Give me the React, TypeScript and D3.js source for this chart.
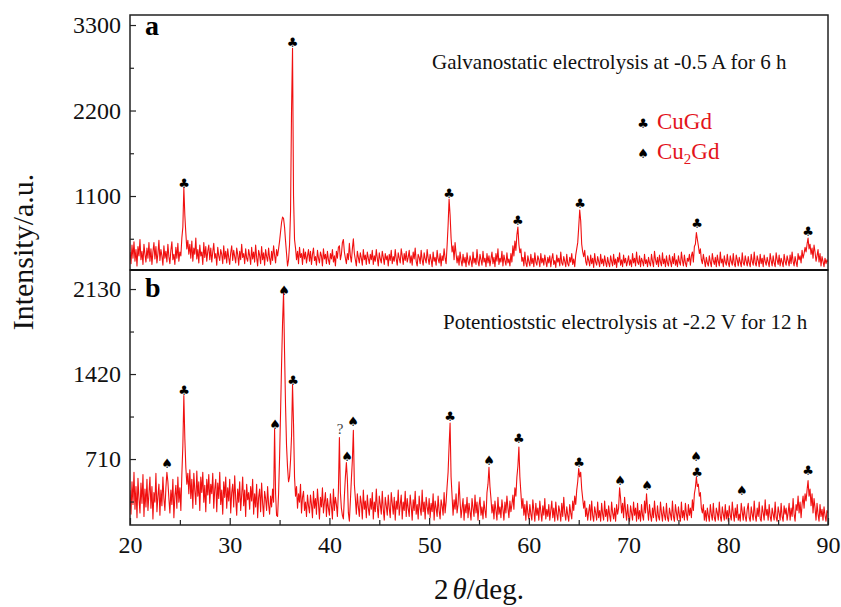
import React, { useEffect, useRef } from "react";
import * as d3 from "d3";

// sampling grid of the diffractograms (2theta, deg)
const angleStart = 20;
const angleStep = 0.1;

// (a) galvanostatic, -0.5 A, 6 h  (one row = 2 deg)
const intensityA = [
  380, 230, 470, 300, 510, 260, 410, 200, 450, 330, 540, 280, 390, 220, 480, 350, 250, 430, 300, 500,
  260, 420, 220, 380, 500, 290, 450, 240, 360, 530, 270, 410, 330, 210, 460, 300, 390, 250, 480, 320,
  230, 400, 510, 280, 350, 220, 440, 300, 490, 260, 380, 330, 560, 700, 1210, 850, 620, 420, 530, 350,
  480, 300, 520, 260, 430, 350, 560, 290, 410, 240, 470, 330, 380, 220, 500, 310, 450, 260, 390, 470,
  280, 430, 250, 380, 490, 300, 360, 210, 440, 330, 270, 410, 350, 230, 460, 290, 390, 240, 420, 310,
  220, 370, 460, 270, 400, 320, 240, 430, 350, 210, 390, 280, 480, 310, 360, 230, 420, 300, 260, 410,
  330, 220, 440, 290, 380, 250, 470, 310, 200, 400, 340, 230, 450, 280, 370, 210, 410, 320, 260, 430,
  300, 220, 390, 270, 460, 340, 240, 410, 330, 420, 520, 640, 760, 830, 810, 700, 520, 360, 200, 280,
  470, 900, 2200, 3000, 1100, 540, 430, 280, 390, 230, 440, 310, 360, 220, 420, 290, 380, 240, 330, 410,
  260, 390, 220, 350, 430, 270, 320, 210, 400, 300, 240, 380, 330, 200, 420, 290, 350, 230, 390, 280,
  220, 360, 290, 410, 250, 330, 200, 390, 300, 440, 460, 280, 350, 500, 540, 380, 300, 230, 360, 280,
  490, 330, 250, 420, 550, 360, 280, 200, 390, 310, 240, 370, 300, 210, 410, 280, 340, 220, 380, 300,
  230, 350, 280, 400, 220, 330, 260, 410, 300, 200, 370, 290, 240, 390, 310, 220, 360, 280, 330, 200,
  350, 270, 400, 230, 320, 260, 410, 290, 210, 370, 300, 240, 420, 330, 220, 360, 270, 390, 250, 310,
  400, 240, 330, 210, 380, 290, 430, 260, 200, 350, 310, 230, 400, 280, 210, 370, 290, 240, 410, 300,
  220, 350, 280, 190, 380, 260, 310, 210, 400, 290, 240, 360, 200, 330, 270, 420, 300, 230, 460, 720,
  1060, 860, 560, 380, 460, 280, 500, 360, 240, 330, 210, 380, 270, 200, 350, 240, 310, 190, 370, 260,
  210, 330, 270, 190, 380, 240, 300, 220, 410, 260, 200, 350, 280, 210, 390, 250, 300, 190, 360, 240,
  330, 200, 290, 380, 230, 310, 190, 360, 260, 420, 220, 300, 250, 390, 200, 340, 270, 210, 370, 240,
  290, 200, 360, 250, 460, 330, 520, 400, 600, 700, 480, 370, 420, 260, 310, 200, 380, 240, 190, 330,
  260, 200, 350, 230, 300, 190, 370, 250, 210, 330, 280, 190, 360, 240, 300, 210, 340, 260, 190, 310,
  240, 330, 190, 290, 360, 220, 270, 180, 340, 250, 300, 200, 380, 240, 210, 320, 260, 190, 350, 230,
  200, 310, 250, 360, 220, 290, 190, 340, 420, 500, 700, 920, 780, 480, 380, 320, 400, 260, 210, 330,
  270, 200, 340, 230, 300, 180, 360, 250, 210, 320, 260, 190, 350, 230, 290, 200, 330, 250, 190, 310,
  240, 190, 330, 260, 200, 350, 220, 290, 180, 310, 250, 370, 210, 280, 190, 340, 240, 300, 200, 260,
  330, 210, 280, 190, 360, 240, 300, 200, 380, 250, 220, 330, 190, 300, 260, 200, 350, 230, 280, 190,
  310, 240, 200, 350, 260, 190, 390, 280, 220, 310, 190, 340, 250, 200, 370, 230, 290, 190, 330, 240,
  200, 340, 260, 190, 320, 230, 360, 210, 280, 190, 330, 250, 210, 380, 270, 200, 340, 240, 190, 300,
  260, 350, 210, 330, 380, 250, 450, 480, 630, 540, 460, 360, 420, 280, 230, 350, 270, 190, 310, 240,
  200, 330, 250, 190, 360, 270, 220, 310, 190, 340, 260, 200, 380, 240, 290, 190, 330, 250, 210, 350,
  240, 190, 330, 260, 210, 360, 230, 190, 340, 280, 200, 310, 250, 190, 370, 240, 210, 330, 260, 200,
  320, 240, 190, 350, 260, 210, 380, 240, 200, 330, 270, 190, 350, 230, 300, 190, 340, 260, 210, 310,
  250, 190, 360, 270, 200, 330, 240, 190, 370, 280, 220, 340, 200, 300, 250, 190, 350, 260, 210, 330,
  270, 200, 340, 230, 380, 260, 200, 320, 250, 190, 360, 280, 330, 240, 400, 300, 360, 440, 380, 480,
  560, 420, 480, 350, 430, 300, 470, 380, 260, 330, 410, 250, 360, 200, 320, 260, 190, 300, 230, 280,
  250,
];

// (b) potentiostatic, -2.2 V, 12 h
const intensityB = [
  450, 250, 520, 330, 600, 290, 480, 220, 550, 380, 260, 510, 340, 580, 230, 460, 310, 540, 280, 420,
  560, 300, 480, 210, 430, 350, 590, 270, 400, 500, 240, 450, 320, 560, 380, 280, 470, 600, 520, 380,
  260, 450, 330, 540, 220, 400, 490, 300, 560, 350, 470, 280, 580, 820, 1240, 880, 640, 500, 590, 420,
  620, 380, 540, 300, 590, 450, 330, 610, 400, 520, 280, 560, 430, 600, 350, 490, 270, 540, 410, 580,
  340, 500, 420, 590, 300, 460, 540, 270, 510, 380, 600, 330, 450, 250, 520, 390, 560, 300, 470, 360,
  540, 260, 430, 500, 310, 570, 380, 240, 460, 350, 520, 280, 410, 560, 320, 450, 230, 500, 370, 430,
  290, 480, 360, 540, 250, 420, 310, 500, 220, 390, 460, 270, 510, 340, 230, 440, 380, 280, 480, 330,
  250, 400, 310, 460, 350, 960, 420, 240, 230, 420, 720, 1100, 1500, 1850, 2100, 1600, 1150, 820, 640, 520,
  560, 700, 900, 1330, 1000, 560, 400, 480, 300, 420, 350, 500, 260, 390, 440, 280, 350, 230, 410, 320,
  260, 410, 330, 220, 440, 300, 380, 250, 460, 340, 210, 390, 310, 470, 260, 350, 430, 230, 380, 300,
  240, 420, 320, 210, 460, 280, 390, 330, 230, 450, 890, 430, 300, 240, 210, 400, 560, 680, 540, 260,
  190, 360, 540, 700, 950, 500, 380, 250, 420, 310, 230, 400, 340, 210, 450, 290, 360, 220, 410, 300,
  240, 380, 290, 430, 210, 350, 270, 460, 310, 220, 400, 330, 250, 440, 290, 200, 390, 320, 240, 410,
  300, 220, 430, 340, 250, 390, 200, 360, 290, 450, 240, 330, 410, 210, 350, 280, 440, 230, 380, 300,
  230, 410, 320, 200, 370, 280, 440, 250, 330, 210, 400, 300, 240, 450, 270, 350, 210, 390, 310, 250,
  380, 220, 340, 270, 420, 200, 360, 300, 230, 400, 280, 210, 370, 320, 240, 430, 260, 350, 480, 600,
  820, 1010, 560, 400, 240, 370, 290, 420, 260, 330, 520, 360, 220, 300, 380, 200, 330, 260, 390, 220,
  340, 270, 200, 380, 300, 230, 410, 260, 350, 200, 320, 390, 240, 310, 210, 360, 280, 220, 430, 500,
  640, 480, 380, 260, 330, 210, 360, 280, 200, 390, 250, 310, 220, 370, 290, 200, 350, 260, 400, 300,
  220, 360, 270, 330, 410, 290, 470, 400, 560, 650, 810, 560, 430, 300, 380, 240, 330, 200, 360, 260,
  210, 330, 250, 200, 370, 280, 190, 340, 240, 300, 200, 360, 270, 190, 320, 240, 380, 210, 290, 230,
  330, 200, 280, 360, 220, 300, 190, 350, 250, 200, 320, 270, 190, 340, 230, 390, 260, 200, 310, 240,
  190, 330, 260, 210, 360, 280, 400, 330, 450, 520, 630, 560, 600, 460, 380, 300, 360, 230, 300, 200,
  270, 330, 200, 360, 240, 190, 310, 260, 200, 350, 220, 280, 190, 340, 250, 200, 360, 230, 290, 190,
  320, 240, 190, 350, 260, 210, 300, 190, 330, 250, 300, 470, 380, 260, 340, 220, 390, 280, 200, 330,
  230, 190, 320, 260, 200, 350, 240, 300, 190, 340, 210, 280, 190, 330, 240, 200, 360, 260, 420, 290,
  200, 330, 240, 190, 300, 220, 360, 250, 190, 320, 230, 200, 350, 260, 190, 310, 240, 200, 340, 220,
  190, 300, 250, 200, 360, 230, 190, 330, 260, 200, 310, 240, 190, 350, 220, 280, 200, 340, 250, 200,
  330, 240, 300, 220, 370, 280, 420, 470, 560, 480, 500, 400, 430, 300, 260, 330, 200, 280, 190, 300,
  240, 190, 330, 250, 200, 340, 220, 190, 300, 260, 200, 350, 230, 190, 310, 250, 200, 330, 210, 280,
  190, 320, 240, 200, 350, 260, 190, 300, 220, 330, 200, 250, 190, 340, 270, 200, 310, 230, 190, 290,
  340, 220, 190, 310, 250, 200, 360, 240, 190, 300, 230, 350, 210, 190, 320, 260, 200, 370, 240, 290,
  200, 330, 230, 190, 300, 250, 200, 350, 220, 190, 310, 260, 200, 340, 230, 190, 320, 250, 300, 200,
  260, 340, 200, 300, 230, 380, 250, 190, 330, 280, 400, 260, 350, 220, 330, 400, 300, 420, 360, 450,
  530, 400, 460, 320, 420, 260, 380, 300, 200, 340, 250, 190, 330, 230, 290, 200, 310, 240, 190, 280,
  260,
];

const CLUB = "\u2663";
const SPADE = "\u2660";

// phase markers: [2theta, intensity level, symbol]
const markersA: [number, number, string][] = [
  [25.42, 1267, CLUB],
  [36.3, 3083, CLUB],
  [52.0, 1139, CLUB],
  [58.9, 793, CLUB],
  [65.13, 1011, CLUB],
  [76.86, 755, CLUB],
  [88.0, 653, CLUB],
];
const markersB: [number, number, string][] = [
  [23.71, 677, SPADE],
  [25.42, 1287, CLUB],
  [34.54, 1003, SPADE],
  [35.44, 2122, SPADE],
  [36.35, 1370, CLUB],
  [41.06, 969, "?"],
  [41.76, 735, SPADE],
  [42.36, 1028, SPADE],
  [52.09, 1069, CLUB],
  [56.0, 702, SPADE],
  [59.0, 886, CLUB],
  [65.03, 685, CLUB],
  [69.14, 535, SPADE],
  [71.85, 493, SPADE],
  [76.76, 735, SPADE],
  [76.86, 605, CLUB],
  [81.37, 451, SPADE],
  [88.0, 618, CLUB],
];

const ticksA = [1100, 2200, 3300];
const minorTicksA = [550, 1650, 2750];
const ticksB = [710, 1420, 2130];
const minorTicksB = [355, 1065, 1775];
const angleTicks = [20, 30, 40, 50, 60, 70, 80, 90];
const angleMinorTicks = [25, 35, 45, 55, 65, 75, 85];

const serif = "'Liberation Serif', 'Times New Roman', serif";
const symbolFont = "'DejaVu Sans', sans-serif";

function Chart() {
  const ref = useRef<SVGSVGElement>(null);

  useEffect(() => {
    const svg = d3.select(ref.current);
    svg.selectAll("*").remove();

    const left = 130, right = 828;
    const x = d3.scaleLinear().domain([20, 90]).range([left, right]);

    const panels = [
      { id: "a", top: 15, bottom: 270, domain: [148, 3429], data: intensityA, ticks: ticksA, minor: minorTicksA,
        markers: markersA, note: "Galvanostatic electrolysis at -0.5 A for 6 h", noteX: 432, noteY: 69 },
      { id: "b", top: 270, bottom: 525, domain: [159, 2289], data: intensityB, ticks: ticksB, minor: minorTicksB,
        markers: markersB, note: "Potentioststic electrolysis at -2.2 V for 12 h", noteX: 443, noteY: 329 },
    ];

    panels.forEach((p) => {
      const y = d3.scaleLinear().domain(p.domain).range([p.bottom, p.top]);

      svg.append("clipPath").attr("id", "clip-" + p.id)
        .append("rect")
        .attr("x", left).attr("y", p.top)
        .attr("width", right - left).attr("height", p.bottom - p.top);

      const line = d3.line<number>()
        .x((d, i) => x(angleStart + i * angleStep))
        .y((d) => y(d));

      svg.append("path")
        .datum(p.data)
        .attr("clip-path", "url(#clip-" + p.id + ")")
        .attr("fill", "none")
        .attr("stroke", "#f01010")
        .attr("stroke-width", 1.1)
        .attr("stroke-linejoin", "round")
        .attr("d", line);

      // y axis, ticks inside
      const ax = svg.append("g")
        .attr("transform", "translate(" + left + ",0)")
        .call(d3.axisLeft(y).tickValues(p.ticks).tickSize(-6).tickPadding(9).tickFormat(d3.format("d")));
      ax.select(".domain").remove();
      ax.selectAll("line").attr("stroke", "#222").attr("stroke-width", 1.2);
      ax.selectAll("text").attr("font-family", serif).attr("font-size", 24).attr("fill", "#111");

      const mi = svg.append("g")
        .attr("transform", "translate(" + left + ",0)")
        .call(d3.axisLeft(y).tickValues(p.minor).tickSize(-4).tickFormat(() => ""));
      mi.select(".domain").remove();
      mi.selectAll("line").attr("stroke", "#222").attr("stroke-width", 1.2);

      svg.append("rect")
        .attr("x", left).attr("y", p.top)
        .attr("width", right - left).attr("height", p.bottom - p.top)
        .attr("fill", "none").attr("stroke", "#222").attr("stroke-width", 1.5);

      svg.append("text")
        .attr("x", 145).attr("y", p.id === "a" ? 35 : 297)
        .attr("font-family", serif).attr("font-size", 28).attr("font-weight", "bold")
        .text(p.id);

      svg.append("text")
        .attr("x", p.noteX).attr("y", p.noteY)
        .attr("font-family", serif).attr("font-size", 21).attr("fill", "#111")
        .text(p.note);

      svg.append("g").selectAll("text")
        .data(p.markers)
        .join("text")
        .attr("x", (d) => x(d[0]))
        .attr("y", (d) => y(d[1]))
        .attr("dy", "0.38em")
        .attr("text-anchor", "middle")
        .attr("font-family", (d) => (d[2] === "?" ? serif : symbolFont))
        .attr("font-size", (d) => (d[2] === "?" ? 15 : 13))
        .attr("fill", (d) => (d[2] === "?" ? "#444" : "#000"))
        .text((d) => d[2]);
    });

    // x axis
    const xa = svg.append("g")
      .attr("transform", "translate(0,525)")
      .call(d3.axisBottom(x).tickValues(angleTicks).tickSize(-7).tickPadding(11).tickFormat(d3.format("d")));
    xa.select(".domain").remove();
    xa.selectAll("line").attr("stroke", "#222").attr("stroke-width", 1.2);
    xa.selectAll("text").attr("font-family", serif).attr("font-size", 24).attr("fill", "#111");

    const xm = svg.append("g")
      .attr("transform", "translate(0,525)")
      .call(d3.axisBottom(x).tickValues(angleMinorTicks).tickSize(-5).tickFormat(() => ""));
    xm.select(".domain").remove();
    xm.selectAll("line").attr("stroke", "#222").attr("stroke-width", 1.2);

    // divider between panels
    svg.append("line")
      .attr("x1", left).attr("x2", right).attr("y1", 270).attr("y2", 270)
      .attr("stroke", "#111").attr("stroke-width", 2.2);

    // legend
    const legend = svg.append("g");
    legend.append("text").attr("x", 643).attr("y", 123).attr("dy", "0.38em")
      .attr("text-anchor", "middle").attr("font-family", symbolFont).attr("font-size", 13).text(CLUB);
    legend.append("text").attr("x", 643).attr("y", 153).attr("dy", "0.38em")
      .attr("text-anchor", "middle").attr("font-family", symbolFont).attr("font-size", 13).text(SPADE);
    legend.append("text").attr("x", 657).attr("y", 129)
      .attr("font-family", serif).attr("font-size", 23).attr("fill", "#e3141c").text("CuGd");
    const cu2 = legend.append("text").attr("x", 657).attr("y", 159)
      .attr("font-family", serif).attr("font-size", 23).attr("fill", "#e3141c");
    cu2.append("tspan").text("Cu");
    cu2.append("tspan").attr("dy", 5).attr("font-size", 15).text("2");
    cu2.append("tspan").attr("dy", -5).text("Gd");

    // axis titles
    svg.append("text")
      .attr("transform", "translate(33,252) rotate(-90)")
      .attr("text-anchor", "middle")
      .attr("font-family", serif).attr("font-size", 30).attr("fill", "#111")
      .text("Intensity/a.u.");

    const xt = svg.append("text")
      .attr("x", 479).attr("y", 599)
      .attr("text-anchor", "middle")
      .attr("font-family", serif).attr("font-size", 29).attr("fill", "#111");
    xt.append("tspan").text("2");
    xt.append("tspan").attr("font-style", "italic").attr("dx", 4).text("\u03b8");
    xt.append("tspan").text("/deg.");
  }, []);

  return <svg ref={ref} width={841} height={607} style={{ position: "absolute", left: 0, top: 0 }} />;
}

export default function App() {
  return (
    <div className="App">
      <Chart />
    </div>
  );
}
